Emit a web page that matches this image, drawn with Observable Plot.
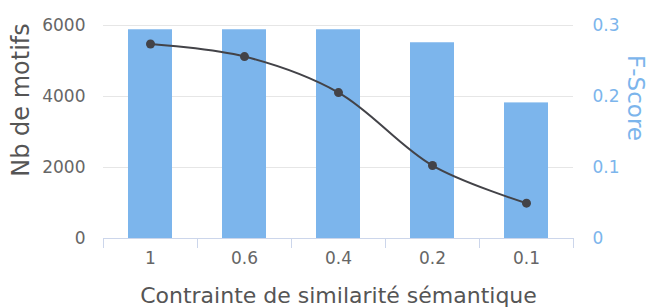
<!DOCTYPE html>
<html>
<head>
<meta charset="utf-8">
<script src="https://cdn.jsdelivr.net/npm/d3@7"></script>
<script src="https://cdn.jsdelivr.net/npm/@observablehq/plot@0.6"></script>
<style>
  html, body { margin: 0; padding: 0; background: #fff; }
  svg { display: block; }
</style>
</head>
<body>
<div id="chart"></div>
<script>
const categories = ["1", "0.6", "0.4", "0.2", "0.1"];
const fScore = [0.294, 0.294, 0.294, 0.2757, 0.191];      // bars, right axis
const nbMotifs = [5480, 5125, 4110, 2055, 995];           // line, left axis
const leftTicks = [0, 2000, 4000, 6000];
const rightTicks = [0, 0.1, 0.2, 0.3];

const ratio = 6000 / 0.3; // right axis mapped onto left scale
const data = categories.map((c, i) => ({cat: c, f: fScore[i], n: nbMotifs[i]}));

const font = "DejaVu Sans, sans-serif";
const chart = Plot.plot({
  width: 648,
  height: 307,
  marginLeft: 103,
  marginRight: 75,
  marginTop: 25,
  marginBottom: 69,
  style: {fontFamily: font, fontSize: "17px", background: "#fff"},
  x: {type: "band", domain: categories, padding: 0, label: null},
  y: {domain: [0, 6000], label: null},
  marks: [
    Plot.gridY([2000, 4000, 6000], {stroke: "#e6e6e6", strokeOpacity: 1}),
    Plot.barY(data, {x: "cat", y: d => d.f * ratio, fill: "#7cb5ec", insetLeft: 25, insetRight: 25}),
    Plot.ruleY([0], {stroke: "#ccd6eb"}),
    Plot.axisX({tickSize: 10, tickFormat: () => "", dx: -47, stroke: "#ccd6eb", strokeOpacity: 1, label: null}),
    Plot.axisX({ticks: [categories[categories.length - 1]], tickSize: 10, tickFormat: () => "", dx: 47, stroke: "#ccd6eb", strokeOpacity: 1, label: null}),
    Plot.axisX({tickSize: 0, tickPadding: 13, fill: "#666666", fontSize: 17, label: null}),
    Plot.axisY({ticks: leftTicks, tickFormat: d => String(d), tickSize: 0, tickPadding: 18, fill: "#666666", fontSize: 17, label: null}),
    Plot.axisY({anchor: "right", ticks: rightTicks.map(t => t * ratio), tickFormat: d => String(+(d / ratio).toFixed(2)), tickSize: 0, tickPadding: 19, fill: "#7cb5ec", fontSize: 17, label: null}),
    Plot.line(data, {x: "cat", y: "n", stroke: "#434348", strokeWidth: 2, curve: "catmull-rom"}),
    Plot.dot(data, {x: "cat", y: "n", r: 4.5, fill: "#434348", stroke: "#434348", strokeWidth: 0}),
    Plot.text(["Nb de motifs"], {frameAnchor: "left", textAnchor: "middle", lineAnchor: "middle", dx: -82, dy: -32, rotate: -90, fontSize: 24, fill: "#555555"}),
    Plot.text(["F-Score"], {frameAnchor: "right", textAnchor: "middle", lineAnchor: "middle", dx: 62, dy: -34, rotate: 90, fontSize: 23, fill: "#7cb5ec"}),
    Plot.text(["Contrainte de similarité sémantique"], {frameAnchor: "bottom", textAnchor: "middle", lineAnchor: "middle", dy: 57, fontSize: 22, fill: "#555555"})
  ]
});
document.getElementById("chart").appendChild(chart);
</script>
</body>
</html>
